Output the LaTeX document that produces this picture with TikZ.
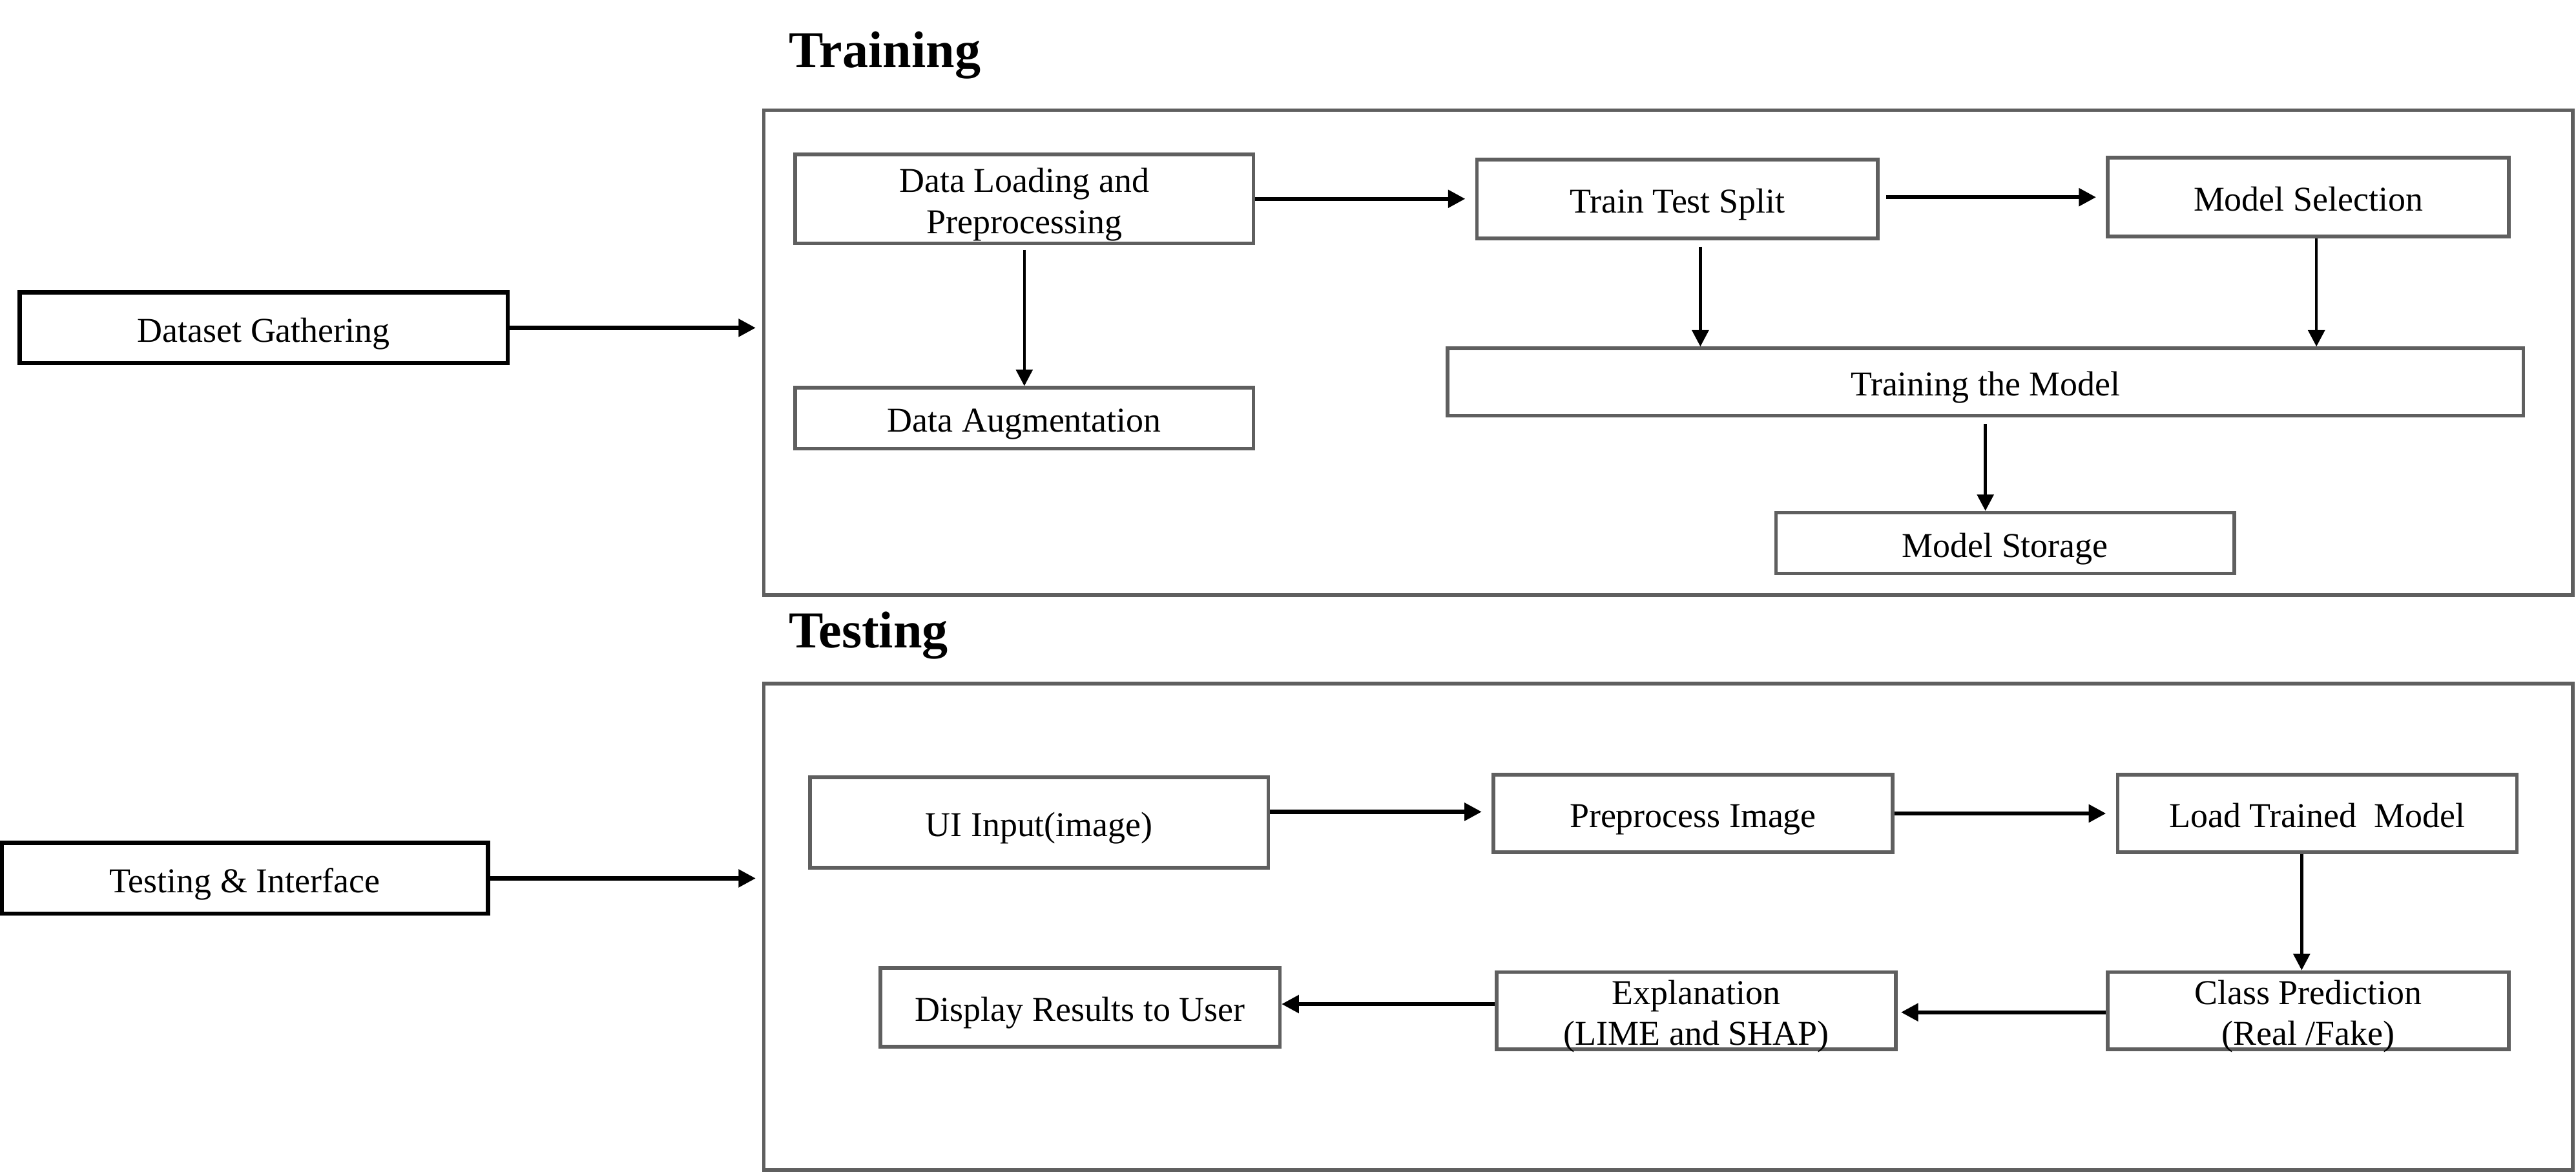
\documentclass[tikz,border=0pt]{standalone}
\usepackage{fontspec}
\setmainfont{Liberation Serif}
\usetikzlibrary{arrows.meta,calc}
\definecolor{boxgray}{RGB}{95,95,95}
\newcommand{\bxt}[1]{\raisebox{-3.5pt}[\dimexpr\height-4pt\relax][\dimexpr\depth-4pt\relax]{\begin{tabular}{@{}c@{}}#1\end{tabular}}}
\tikzset{
  gbox/.style={draw=boxgray,line width=2.2pt,inner sep=0pt,
    font=\fontsize{21.2}{25}\selectfont},
  bbox/.style={draw=black,line width=2.6pt,inner sep=0pt,
    font=\fontsize{21.2}{25}\selectfont},
  frame/.style={draw=boxgray,line width=2.2pt},
  title/.style={font=\fontsize{31.5}{36}\selectfont\bfseries,anchor=base west,inner sep=0pt},
  harr/.style={draw=black,line width=2.5pt,-{Triangle[length=10.5pt,width=10.5pt]}},
  varr/.style={draw=black,line width=1.8pt,-{Triangle[length=10pt,width=10pt]}},
}
\begin{document}
\begin{tikzpicture}[x=1pt,y=-1pt]
\useasboundingbox (0,0) rectangle (1568,714.4);
% frames and titles
\draw[frame] (465,67) rectangle (1566,362);
\draw[frame] (465,416) rectangle (1566,712);
\node[title] (ttrain) at (480,41) {Training};
\node[title] (ttest) at (480,394) {Testing};
% outer boxes
\node[bbox,minimum width=297pt,minimum height=43pt] (dg) at (160.5,199.5) {\bxt{Dataset Gathering}};
\node[bbox,minimum width=296pt,minimum height=43pt] (ti) at (149,534.5) {\bxt{Testing \& Interface}};
\coordinate (dgend) at (460,199.5);
\coordinate (tiend) at (460,534.5);
% training boxes
\node[gbox,minimum width=279pt,minimum height=54pt] (dl) at (623.5,121) {\bxt{Data Loading and\\Preprocessing}};
\node[gbox,minimum width=279pt,minimum height=37pt] (da) at (623.5,254.5) {\bxt{Data Augmentation}};
\node[gbox,minimum width=244pt,minimum height=48pt] (tts) at (1021,121) {\bxt{Train Test Split}};
\node[gbox,minimum width=244pt,minimum height=48pt] (ms) at (1405,120) {\bxt{Model Selection}};
\node[gbox,minimum width=655pt,minimum height=41pt] (tm) at (1208.5,232.5) {\bxt{Training the Model}};
\node[gbox,minimum width=279pt,minimum height=37pt] (mst) at (1220.5,330.5) {\bxt{Model Storage}};
% testing boxes
\node[gbox,minimum width=279pt,minimum height=55pt] (ui) at (632.5,500.5) {\bxt{UI Input(image)}};
\node[gbox,minimum width=243pt,minimum height=47pt] (pi) at (1030.5,495) {\bxt{Preprocess Image}};
\node[gbox,minimum width=243pt,minimum height=47pt] (ltm) at (1410.5,495) {\bxt{Load Trained\ \ Model}};
\node[gbox,minimum width=244pt,minimum height=47pt] (cp) at (1405,615) {\bxt{Class Prediction\\(Real /Fake)}};
\node[gbox,minimum width=243pt,minimum height=47pt] (ex) at (1032.5,615) {\bxt{Explanation\\(LIME and SHAP)}};
\node[gbox,minimum width=243pt,minimum height=48pt] (dr) at (657.5,613) {\bxt{Display Results to User}};
% helper coordinates for offset connectors
\coordinate (ttsout) at ($(tts.south)+(14,0)$);
\coordinate (msout) at ($(ms.south)+(5,0)$);
\coordinate (ltmout) at ($(ltm.south)+(-9.5,0)$);
\coordinate (uiout) at ($(ui.east)+(0,-6.5)$);
\coordinate (cpout) at ($(cp.west)+(0,1)$);
\coordinate (exout) at ($(ex.west)+(0,-4)$);
\coordinate (ttsr) at ($(tts.east)+(0,-1)$);
% outer arrows
\draw[harr] (dg.east) -- (dgend);
\draw[harr] (ti.east) -- (tiend);
% training arrows
\draw[harr,shorten >=6pt] (dl.east) -- (dl.east -| tts.west);
\draw[harr,shorten <=4pt,shorten >=6pt] (ttsr) -- (ttsr -| ms.west);
\draw[varr,shorten <=3pt] (dl.south) -- (da.north);
\draw[varr,shorten <=4pt] (ttsout) -- (ttsout |- tm.north);
\draw[varr] (msout) -- (msout |- tm.north);
\draw[varr,shorten <=4pt] (tm.south) -- (tm.south |- mst.north);
% testing arrows
\draw[harr,shorten >=6pt] (uiout) -- (uiout -| pi.west);
\draw[harr,shorten >=6pt] (pi.east) -- (pi.east -| ltm.west);
\draw[varr] (ltmout) -- (ltmout |- cp.north);
\draw[harr,shorten >=2pt] (cpout) -- (cpout -| ex.east);
\draw[harr] (exout) -- (exout -| dr.east);
\end{tikzpicture}
\end{document}
